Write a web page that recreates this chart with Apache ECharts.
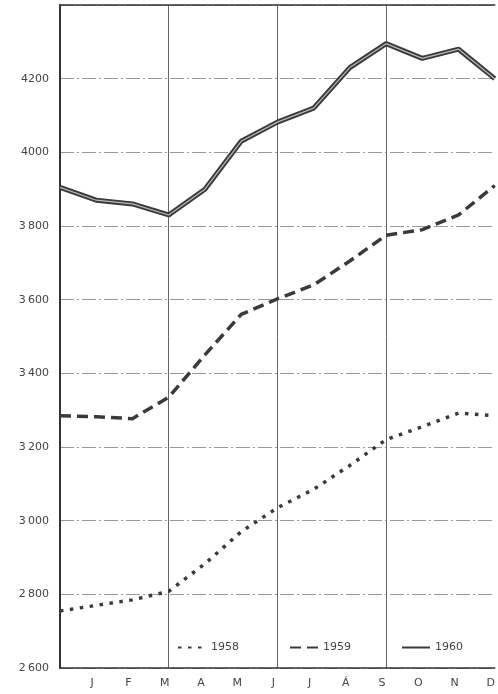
<!DOCTYPE html>
<html>
<head>
<meta charset="utf-8">
<script src="https://cdn.jsdelivr.net/npm/echarts@6/dist/echarts.min.js"></script>
<style>
html,body{margin:0;padding:0;background:#fff;overflow:hidden;}
#c{width:498px;height:694px;}
</style>
</head>
<body>
<div id="c"></div>
<script>
// x positions: first slot is the preceding December (left edge), then J..D
const months = ['', 'J', 'F', 'M', 'A', 'M', 'J', 'J', 'Á', 'S', 'O', 'N', 'D'];
const s1958 = [2755, 2770, 2785, 2808, 2883, 2970, 3035, 3085, 3150, 3220, 3255, 3292, 3285];
const s1959 = [3285, 3282, 3277, 3335, 3450, 3560, 3602, 3640, 3705, 3775, 3790, 3830, 3910];
const s1960 = [3905, 3870, 3860, 3830, 3900, 4030, 4082, 4120, 4230, 4295, 4255, 4280, 4200];
const yTicks = [2600, 2800, 3000, 3200, 3400, 3600, 3800, 4000, 4200];
const yTickLabels = ['2\u2009600', '2\u2009800', '3\u2009000', '3\u2009200', '3\u2009400', '3\u2009600', '3\u2009800', '4000', '4200'];

const ink = '#3a3a3a';
const chart = echarts.init(document.getElementById('c'), null, {renderer: 'canvas'});
chart.setOption({
  animation: false,
  backgroundColor: '#fff',
  textStyle: {fontFamily: 'DejaVu Sans'},
  grid: {left: 60, right: 0, top: 5, bottom: 26},
  legend: {
    data: ['1958', '1959', '1960'],
    left: 172, top: 637,
    itemWidth: 28, itemHeight: 10, itemGap: 50,
    itemStyle: {opacity: 0},
    textStyle: {color: '#444', fontSize: 11}
  },
  xAxis: [{
    type: 'category',
    data: months,
    boundaryGap: false,
    axisLine: {lineStyle: {color: '#333', width: 1.5}},
    axisTick: {show: false},
    axisLabel: {color: '#444', fontSize: 11, interval: 0, margin: 10, padding: [0, 8, 0, 0]},
    splitLine: {show: true, interval: function (i) { return i % 3 === 0 && i > 0 && i < 12; }, lineStyle: {color: '#666', width: 1}}
  }, {
    type: 'category',
    data: months,
    position: 'top',
    boundaryGap: false,
    axisLine: {lineStyle: {color: '#333', width: 1.5}},
    axisTick: {show: false},
    axisLabel: {show: false},
    splitLine: {show: false}
  }],
  yAxis: {
    type: 'value',
    min: 2600, max: 4400, interval: 200,
    axisLine: {show: true, lineStyle: {color: '#333', width: 2}},
    axisTick: {show: false},
    axisLabel: {
      color: '#444', fontSize: 11, margin: 11,
      formatter: function (v) { const i = yTicks.indexOf(v); return i >= 0 ? yTickLabels[i] : ''; }
    },
    splitLine: {lineStyle: {color: '#999', width: 1, type: [14, 3, 2, 3]}}
  },
  series: [
    {name: '1958', type: 'line', data: s1958, symbol: 'none', color: ink,
     lineStyle: {color: ink, width: 3.5, type: [3.5, 6.5]}},
    {name: '1959', type: 'line', data: s1959, symbol: 'none', color: ink,
     lineStyle: {color: ink, width: 3.5, type: [11, 6]}},
    {name: '1960', type: 'line', data: s1960, symbol: 'none', color: ink,
     lineStyle: {color: ink, width: 5}},
    {name: '1960 inner', type: 'line', data: s1960, symbol: 'none', color: '#b8b8b8',
     lineStyle: {color: '#b8b8b8', width: 1.2}, silent: true}
  ]
});
</script>
</body>
</html>
